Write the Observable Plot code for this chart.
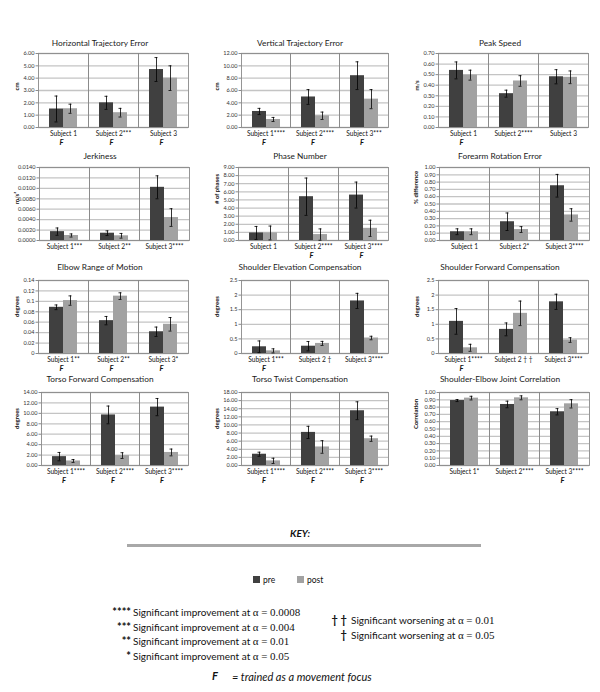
<!DOCTYPE html>
<html><head><meta charset="utf-8">
<script src="https://cdn.jsdelivr.net/npm/d3@7"></script>
<script src="https://cdn.jsdelivr.net/npm/@observablehq/plot@0.6"></script>
<style>
body{margin:0;background:#fff;}
#root{position:relative;width:600px;height:692px;font-family:Lato,"Open Sans",sans-serif;overflow:hidden;background:#fff;color:#111;}
.title{position:absolute;width:200px;text-align:center;font-size:8.3px;line-height:10px;color:#1a1a1a;}
.panel{position:absolute;}
.k{position:absolute;white-space:nowrap;font-size:10px;line-height:12px;}
.gr{font-family:"Liberation Serif","DejaVu Serif",serif;font-size:11px;}
</style></head><body><div id="root"></div>
<script>
const subjects = ["Subject 1", "Subject 2", "Subject 3"];
const series = ["pre", "post"];
const titles = ["Horizontal Trajectory Error", "Vertical Trajectory Error", "Peak Speed",
  "Jerkiness", "Phase Number", "Forearm Rotation Error",
  "Elbow Range of Motion", "Shoulder Elevation Compensation", "Shoulder Forward Compensation",
  "Torso Forward Compensation", "Torso Twist Compensation", "Shoulder-Elbow Joint Correlation"];
const yLabels = ["cm", "cm", "m/s", "m/s³", "# of phases", "% difference",
  "degrees", "degrees", "degrees", "degrees", "degrees", "Correlation"];
const subjectLabels = [
  ["Subject 1", "Subject 2***", "Subject 3"],
  ["Subject 1****", "Subject 2****", "Subject 3***"],
  ["Subject 1", "Subject 2****", "Subject 3"],
  ["Subject 1***", "Subject 2**", "Subject 3****"],
  ["Subject 1", "Subject 2****", "Subject 3****"],
  ["Subject 1", "Subject 2*", "Subject 3****"],
  ["Subject 1**", "Subject 2**", "Subject 3*"],
  ["Subject 1***", "Subject 2 †", "Subject 3****"],
  ["Subject 1****", "Subject 2 † †", "Subject 3****"],
  ["Subject 1****", "Subject 2****", "Subject 3****"],
  ["Subject 1****", "Subject 2****", "Subject 3****"],
  ["Subject 1*", "Subject 2****", "Subject 3****"]];
const focus = [
  [1, 1, 1], [1, 1, 1], [1, 0, 0],
  [0, 0, 0], [0, 1, 1], [0, 0, 0],
  [1, 1, 1], [1, 0, 0], [1, 0, 0],
  [1, 1, 1], [1, 1, 1], [0, 0, 1]];
const preValues = [
  [1.5, 2.0, 4.7], [2.6, 4.95, 8.4], [0.54, 0.32, 0.48],
  [0.0017, 0.0014, 0.0102], [0.93, 5.4, 5.6], [0.12, 0.257, 0.75],
  [0.0886, 0.063, 0.0417], [0.23, 0.25, 1.8], [1.1, 0.826, 1.77],
  [1.7, 9.7, 11.2], [2.78, 8.16, 13.5], [0.89, 0.836, 0.736]];
const preErrors = [
  [1.05, 0.53, 0.97], [0.5, 1.2, 2.25], [0.08, 0.033, 0.067],
  [0.0007, 0.00045, 0.0022], [0.8, 2.3, 1.6], [0.04, 0.12, 0.155],
  [0.0045, 0.008, 0.009], [0.2, 0.16, 0.26], [0.44, 0.22, 0.26],
  [0.8, 1.7, 1.65], [0.5, 1.5, 2.2], [0.014, 0.045, 0.043]];
const postValues = [
  [1.52, 1.2, 4.0], [1.3, 1.9, 4.6], [0.495, 0.44, 0.475],
  [0.00096, 0.0009, 0.0044], [0.93, 0.73, 1.5], [0.12, 0.15, 0.35],
  [0.1015, 0.11, 0.056], [0.09, 0.345, 0.53], [0.195, 1.375, 0.46],
  [0.87, 1.9, 2.5], [1.14, 4.57, 6.6], [0.923, 0.927, 0.845]];
const postErrors = [
  [0.37, 0.35, 1.0], [0.33, 0.6, 1.55], [0.047, 0.05, 0.06],
  [0.0003, 0.00045, 0.0017], [0.85, 0.7, 1.0], [0.04, 0.04, 0.085],
  [0.009, 0.0064, 0.013], [0.07, 0.07, 0.06], [0.12, 0.42, 0.08],
  [0.28, 0.55, 0.65], [0.65, 1.55, 0.65], [0.025, 0.027, 0.057]];
const yMax = [6, 12, 0.7, 0.014, 9, 1, 0.14, 2.5, 2.5, 14, 18, 1];
const yStep = [1, 2, 0.1, 0.002, 1, 0.1, 0.02, 0.5, 0.5, 2, 2, 0.1];
const yDecimals = [2, 2, 2, 4, 2, 2, -1, -1, -1, 2, 2, 2]; // -1 = general format
const keyStars = ["****", "***", "**", "*"];
const keyImprove = ["0.0008", "0.004", "0.01", "0.05"];
const keyWorse = [["† †", "0.01"], ["†", "0.05"]];

const colors = {pre: "#404040", post: "#a2a2a2"};
const root = document.getElementById("root");

// layout
const rowFrameTop = [53, 167, 280, 392];
const rowFrameH = [74, 73, 73, 73];
const rowTitleY = [43, 156, 267, 379];
const frameLeft = [37, 40, 37, 38, 37, 39, 37, 40, 37, 40, 40, 39];

titles.forEach((title, i) => {
  const r = Math.floor(i / 3), c = i % 3;
  const ml = frameLeft[i], mt = 6, mb = 26, mr = 11;
  const rows = [];
  subjects.forEach((s, j) => {
    rows.push({subject: s, series: "pre", value: preValues[i][j], err: preErrors[i][j]});
    rows.push({subject: s, series: "post", value: postValues[i][j], err: postErrors[i][j]});
  });
  const labelRows = subjects.map((s, j) => ({subject: s, label: subjectLabels[i][j]}));
  const focusRows = subjects.filter((s, j) => focus[i][j]).map(s => ({subject: s, label: "F"}));
  const ticks = d3.range(0, yMax[i] + yStep[i] / 2, yStep[i]).map(v => +v.toFixed(8));
  const fmt = yDecimals[i] < 0 ? (v => String(v)) : (v => v.toFixed(yDecimals[i]));

  const t = document.createElement("div");
  t.className = "title";
  t.textContent = title;
  t.style.left = (c * 200) + "px";
  t.style.top = (rowTitleY[r] - 5) + "px";
  root.appendChild(t);

  const chart = Plot.plot({
    width: 200,
    height: rowFrameH[r] + mt + mb,
    marginLeft: ml, marginRight: mr, marginTop: mt, marginBottom: mb,
    style: {fontFamily: "Lato, 'Open Sans', sans-serif", background: "transparent", overflow: "visible"},
    fx: {domain: subjects, padding: 0, axis: null},
    x: {domain: series, paddingInner: 0, paddingOuter: 0.72, axis: null},
    y: {domain: [0, yMax[i]]},
    color: {domain: series, range: [colors.pre, colors.post]},
    marks: [
      Plot.gridY(ticks, {stroke: "#c4c4c4", strokeOpacity: 1, strokeWidth: 1.3}),
      Plot.barY(rows, {fx: "subject", x: "series", y: "value", fill: "series"}),
      Plot.frame({stroke: "#8a8a8a", strokeWidth: 0.9}),
      Plot.ruleX(rows, {fx: "subject", x: "series", y1: d => Math.max(0, d.value - d.err), y2: d => d.value + d.err, stroke: "#000", strokeWidth: 0.8}),
      Plot.tickY(rows, {fx: "subject", x: "series", y: d => Math.max(0, d.value - d.err), stroke: "#000", strokeWidth: 0.8, insetLeft: 5.5, insetRight: 5.5}),
      Plot.tickY(rows, {fx: "subject", x: "series", y: d => d.value + d.err, stroke: "#000", strokeWidth: 0.8, insetLeft: 5.5, insetRight: 5.5}),
      Plot.axisY(ticks, {tickFormat: fmt, fontSize: 5.6, tickSize: 2.5, tickPadding: 1.5, stroke: "#8a8a8a", fill: "#333", label: null}),
      Plot.text([yLabels[i]], {fx: () => subjects[0], frameAnchor: "left", rotate: -90, dx: -(ml - 16), text: d => d, fontSize: 6, fontWeight: "bold", fill: "#111"}),
      Plot.text(labelRows, {fx: "subject", frameAnchor: "bottom", dy: 8.5, text: "label", fontSize: 6.6, fill: "#111"}),
      Plot.text(focusRows, {fx: "subject", frameAnchor: "bottom", dy: 17, dx: -2, text: "label", fontSize: 7.5, fontWeight: "bold", fontStyle: "italic", fill: "#111"})
    ]
  });
  const holder = document.createElement("div");
  holder.className = "panel";
  holder.style.left = (c * 200) + "px";
  holder.style.top = (rowFrameTop[r] - mt) + "px";
  holder.appendChild(chart);
  root.appendChild(holder);
});

// key
function add(html, css, cls = "k") {
  const d = document.createElement("div");
  d.className = cls;
  d.innerHTML = html;
  Object.assign(d.style, css);
  root.appendChild(d);
  return d;
}
add("KEY:", {left: "0px", width: "600px", textAlign: "center", top: "527px", fontWeight: "bold", fontStyle: "italic", fontSize: "10px"});
add("", {left: "127px", top: "544px", width: "354px", height: "3px", background: "#a8a8a8"});
// legend
series.forEach((s, j) => {
  const x = 253 + j * 44;
  add("", {left: x + "px", top: "576px", width: "7px", height: "7px", background: colors[s]});
  add(s, {left: (x + 10) + "px", top: "574px", fontSize: "8.5px"});
});
keyStars.forEach((st, j) => {
  const y = 606 + j * 14.6;
  add(st, {left: "80px", width: "51px", textAlign: "right", top: y + "px", fontSize: "11px", fontWeight: "bold"});
  add(`Significant improvement at <span class="gr">α</span> <span class="gr">= ${keyImprove[j]}</span>`, {left: "133px", top: y + "px"});
});
keyWorse.forEach(([sym, a], j) => {
  const y = 614 + j * 14.6;
  add(sym, {left: "305px", width: "42px", textAlign: "right", top: y + "px", fontSize: "11px", fontWeight: "bold"});
  add(`Significant worsening at <span class="gr">α</span> <span class="gr">= ${a}</span>`, {left: "351px", top: y + "px"});
});
add(`<b><i>F</i></b>`, {left: "212px", top: "670px", fontSize: "11px"});
add(`<i>= trained as a movement focus</i>`, {left: "232px", top: "671px", fontSize: "11px"});
</script>
</body></html>
